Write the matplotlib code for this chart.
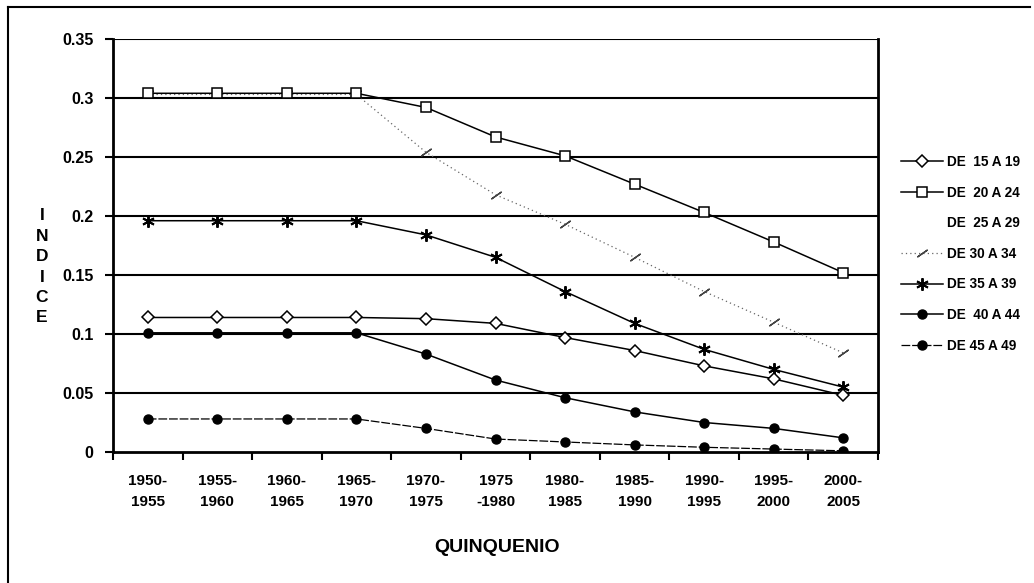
import matplotlib
matplotlib.use("Agg")
import matplotlib.pyplot as plt
from matplotlib.ticker import FixedLocator, NullFormatter

categories = ["1950-\n1955", "1955-\n1960", "1960-\n1965", "1965-\n1970", "1970-\n1975",
              "1975\n-1980", "1980-\n1985", "1985-\n1990", "1990-\n1995", "1995-\n2000",
              "2000-\n2005"]

de_15_19 = [0.114, 0.114, 0.114, 0.114, 0.113, 0.109, 0.097, 0.086, 0.073, 0.062, 0.048]
de_20_24 = [0.304, 0.304, 0.304, 0.304, 0.292, 0.267, 0.251, 0.227, 0.203, 0.178, 0.152]
de_25_29 = [0.304, 0.304, 0.304, 0.304, 0.292, 0.267, 0.251, 0.227, 0.203, 0.178, 0.152]
de_30_34 = [0.303, 0.303, 0.303, 0.303, 0.254, 0.218, 0.193, 0.165, 0.136, 0.110, 0.084]
de_35_39 = [0.196, 0.196, 0.196, 0.196, 0.184, 0.165, 0.136, 0.109, 0.087, 0.070, 0.055]
de_40_44 = [0.101, 0.101, 0.101, 0.101, 0.083, 0.061, 0.046, 0.034, 0.025, 0.020, 0.012]
de_45_49 = [0.028, 0.028, 0.028, 0.028, 0.020, 0.011, 0.0085, 0.006, 0.004, 0.0025, 0.001]

yticks = [0, 0.05, 0.1, 0.15, 0.2, 0.25, 0.3, 0.35]
ytick_labels = ["0", "0.05", "0.1", "0.15", "0.2", "0.25", "0.3", "0.35"]

FONT = ["Liberation Sans Narrow", "Liberation Sans", "DejaVu Sans"]
WIDE = ["Liberation Sans", "DejaVu Sans"]

W, H = 1034, 583
fig = plt.figure(figsize=(W / 100, H / 100), dpi=100)
fig.patch.set_facecolor("white")

left, right, top, bottom = 113, 878, 39, 452
ax = fig.add_axes([left / W, 1 - bottom / H, (right - left) / W, (bottom - top) / H])

x = list(range(len(categories)))

# horizontal gridlines
for v in yticks[1:]:
    ax.axhline(v, color="black", lw=1.5, zorder=1)

ax.plot(x, de_25_29, color="white", lw=1.0, zorder=0.5, label="DE  25 A 29")
ax.plot(x, de_30_34, color="#666666", lw=0.9, ls=(0, (1, 2.5)), marker=(2, 2, -55),
        ms=9, mew=1.0, mec="#444444", zorder=2, label="DE 30 A 34")
ax.plot(x, de_20_24, color="black", lw=1.1, marker="s", ms=7, mfc="white", mec="black",
        mew=1.1, zorder=3, label="DE  20 A 24")
ax.plot(x, de_35_39, color="black", lw=1.1, marker=(6, 2, 0), ms=9, mew=1.4,
        zorder=3, label="DE 35 A 39")
ax.plot(x, de_15_19, color="black", lw=1.1, marker="D", ms=6, mfc="white", mec="black",
        mew=1.1, zorder=3, label="DE  15 A 19")
ax.plot(x, de_40_44, color="black", lw=1.1, marker="o", ms=6.5, zorder=3,
        label="DE  40 A 44")
ax.plot(x, de_45_49, color="black", lw=0.9, ls=(0, (7, 1.5)), marker="o", ms=6.5, zorder=3,
        label="DE 45 A 49")

ax.set_xlim(-0.5, len(categories) - 0.5)
ax.set_ylim(0, 0.35)

for s in ["left", "bottom", "right"]:
    ax.spines[s].set_linewidth(2.0)
ax.spines["top"].set_visible(False)

ax.set_yticks(yticks)
ax.set_yticklabels(ytick_labels, family=FONT, fontweight="bold", fontsize=11.5)
ax.tick_params(axis="y", direction="out", length=6, width=1.5, pad=8)

ax.set_xticks(x)
ax.set_xticklabels(categories, family=FONT, fontweight="bold", fontsize=11,
                   linespacing=1.6)
ax.tick_params(axis="x", which="major", length=0, pad=16)
ax.xaxis.set_minor_locator(FixedLocator([i - 0.5 for i in range(len(categories) + 1)]))
ax.xaxis.set_minor_formatter(NullFormatter())
ax.tick_params(axis="x", which="minor", direction="out", length=6, width=1.5)

fig.text(497 / W, 1 - 547 / H, "QUINQUENIO", family=WIDE, fontweight="bold",
         fontsize=14, ha="center", va="center")

fig.text(42 / W, 1 - 267 / H, "I\nN\nD\nI\nC\nE", family=WIDE, fontweight="bold",
         fontsize=12.5, ha="center", va="center", linespacing=1.45)

# legend
handles, labels = ax.get_legend_handles_labels()
order = ["DE  15 A 19", "DE  20 A 24", "DE  25 A 29", "DE 30 A 34", "DE 35 A 39",
         "DE  40 A 44", "DE 45 A 49"]
hmap = dict(zip(labels, handles))
leg = fig.legend([hmap[k] for k in order], order, loc="upper left",
                 bbox_to_anchor=(901 / W, 1 - 155 / H), frameon=False,
                 prop={"family": FONT, "weight": "bold", "size": 9.8},
                 handlelength=3.1, handletextpad=0.3, labelspacing=1.22,
                 borderaxespad=0, borderpad=0)

# outer frame (left and top edges visible in the scan)
fig.add_artist(plt.Line2D([8 / W, 8 / W], [0, 1 - 7 / H], transform=fig.transFigure,
                          color="black", lw=1.5))
fig.add_artist(plt.Line2D([8 / W, 1030 / W], [1 - 7 / H, 1 - 7 / H],
                          transform=fig.transFigure, color="black", lw=1.5))

fig.savefig("out.png", dpi=100, facecolor="white")
